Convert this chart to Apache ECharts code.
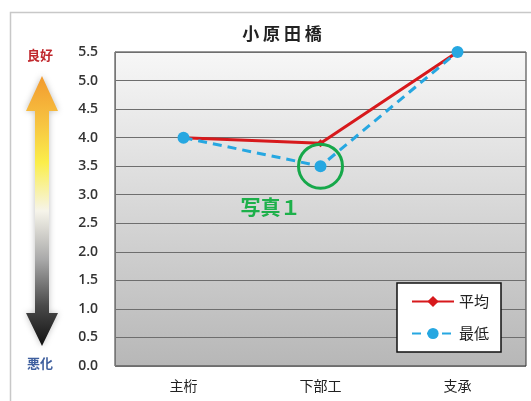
<!DOCTYPE html>
<html>
<head>
<meta charset="utf-8">
<script src="https://cdn.jsdelivr.net/npm/echarts@6/dist/echarts.min.js"></script>
<style>
  html, body { margin: 0; padding: 0; background: #fff; }
  #chart { width: 531px; height: 401px; }
</style>
</head>
<body>
<div id="chart"></div>
<script>
// 小原田橋 健全度 (部材別)
const categories = ['主桁', '下部工', '支承'];
const averageValues = [4.0, 3.9, 5.5];   // 平均
const minimumValues = [4.0, 3.5, 5.5];   // 最低
const yTicks = [0, 5.5, 0.5];            // min, max, interval
const photoNote = { category: '下部工', value: 3.5, text: '写真１' };

const FONT = '"Noto Sans CJK JP", "Noto Sans", sans-serif';
const chart = echarts.init(document.getElementById('chart'), null, { renderer: 'canvas' });

// Double arrow on the left: 良好 (top) ↔ 悪化 (bottom)
const ax = 42, topTip = 76, headTop = 111, headBot = 313, botTip = 346;
const arrowShape = [
  [ax, topTip], [ax + 16, headTop], [ax + 7, headTop], [ax + 7, headBot],
  [ax + 16, headBot], [ax, botTip], [ax - 16, headBot], [ax - 7, headBot],
  [ax - 7, headTop], [ax - 16, headTop]
];

chart.setOption({
  animation: false,
  backgroundColor: '#ffffff',
  title: {
    text: '小 原 田 橋',
    left: 277, top: 20, textAlign: 'center',
    textStyle: { fontFamily: FONT, fontSize: 17, fontWeight: 'bold', color: '#222' }
  },
  grid: {
    left: 115, right: 5, top: 52, bottom: 35,
    show: true,
    borderColor: '#333', borderWidth: 1,
    backgroundColor: new echarts.graphic.LinearGradient(0, 0, 0, 1, [
      { offset: 0, color: '#f7f7f7' },
      { offset: 1, color: '#b7b7b7' }
    ])
  },
  legend: {
    orient: 'vertical',
    left: 397, top: 283,
    padding: [11, 12, 11, 14],
    itemGap: 17,
    itemWidth: 42, itemHeight: 14,
    borderColor: '#111', borderWidth: 1.5,
    backgroundColor: '#fff',
    textStyle: { fontFamily: FONT, fontSize: 15, color: '#222' },
    data: ['平均', '最低']
  },
  xAxis: {
    type: 'category',
    data: categories,
    boundaryGap: true,
    axisLine: { show: false },
    axisTick: { show: false },
    axisLabel: { fontFamily: FONT, fontSize: 14, color: '#222', margin: 13 }
  },
  yAxis: {
    type: 'value',
    min: yTicks[0], max: yTicks[1], interval: yTicks[2],
    axisLine: { show: true, lineStyle: { color: '#777' } },
    axisTick: { show: false },
    axisLabel: {
      fontFamily: '"Open Sans", "Noto Sans", sans-serif', fontSize: 14, fontWeight: 600,
      color: '#333', margin: 17,
      formatter: v => v.toFixed(1)
    },
    splitLine: { lineStyle: { color: '#6e6e6e', width: 1.2 } }
  },
  series: [
    {
      name: '平均',
      type: 'line',
      data: averageValues,
      z: 2,
      symbol: 'diamond', symbolSize: 8,
      lineStyle: { color: '#d7191c', width: 3 },
      itemStyle: { color: '#d7191c' }
    },
    {
      name: '最低',
      type: 'line',
      data: minimumValues,
      z: 3,
      symbol: 'circle', symbolSize: 12,
      lineStyle: { color: '#26a7e1', width: 3, type: [9, 6] },
      itemStyle: { color: '#26a7e1' },
      markPoint: {
        symbol: 'circle', symbolSize: 44,
        silent: true,
        itemStyle: { color: 'rgba(0,0,0,0)', borderColor: '#16a84a', borderWidth: 3 },
        label: {
          show: true, position: 'bottom', distance: 8, offset: [-50, 0],
          formatter: photoNote.text,
          fontFamily: FONT, fontSize: 20, fontWeight: 'bold', color: '#1db04a'
        },
        data: [{ coord: [photoNote.category, photoNote.value] }]
      }
    }
  ],
  graphic: [
    {
      type: 'rect', left: 8, top: 10, silent: true, z: -1,
      shape: { width: 540, height: 420 },
      style: { fill: 'none', stroke: '#c8c8c8', lineWidth: 1.5 }
    },
    {
      type: 'polygon', silent: true,
      shape: { points: arrowShape },
      style: {
        fill: new echarts.graphic.LinearGradient(0, 0, 0, 1, [
          { offset: 0, color: '#f29a2e' },
          { offset: 0.18, color: '#f7c542' },
          { offset: 0.32, color: '#fbee4a' },
          { offset: 0.5, color: '#f6f4ea' },
          { offset: 0.68, color: '#a9a9a9' },
          { offset: 0.85, color: '#4a4a4a' },
          { offset: 1, color: '#111111' }
        ]),
        shadowBlur: 6, shadowColor: 'rgba(0,0,0,0.25)'
      }
    },
    {
      type: 'text', left: 27, top: 49, silent: true,
      style: { text: '良好', fontFamily: FONT, fontSize: 13, fontWeight: 'bold', fill: '#c0282d' }
    },
    {
      type: 'text', left: 27, top: 357, silent: true,
      style: { text: '悪化', fontFamily: FONT, fontSize: 13, fontWeight: 'bold', fill: '#3f5f9e' }
    }
  ]
});
</script>
</body>
</html>
